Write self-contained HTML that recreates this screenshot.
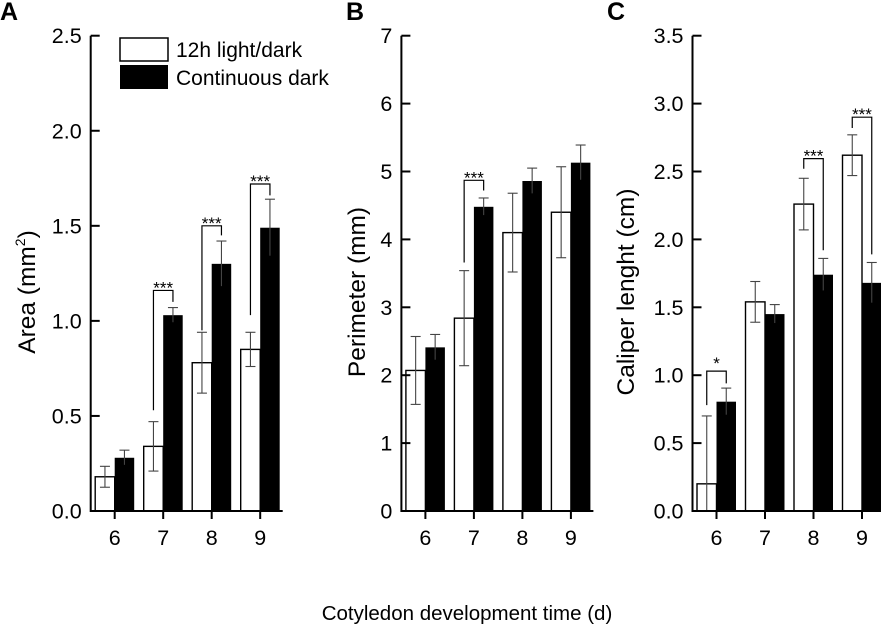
<!DOCTYPE html>
<html><head><meta charset="utf-8">
<style>
html,body{margin:0;padding:0;background:#fff;}
svg{display:block;font-family:"Liberation Sans",Arial,sans-serif;}
</style></head>
<body>
<svg id="fig" width="881" height="627" viewBox="0 0 881 627" xmlns="http://www.w3.org/2000/svg">
<text x="0" y="20" font-size="25" font-weight="bold">A</text>
<text x="346" y="20" font-size="25" font-weight="bold">B</text>
<text x="607" y="20" font-size="25" font-weight="bold">C</text>
<text x="467" y="620" font-size="20.5" text-anchor="middle">Cotyledon development time (d)</text>
<g>
<rect x="120" y="38" width="48" height="23" fill="#fff" stroke="#000" stroke-width="1.5"/>
<text x="176" y="57" font-size="21">12h light/dark</text>
<rect x="120" y="65" width="48" height="24" fill="#000"/>
<text x="176" y="85" font-size="21">Continuous dark</text>
</g>
</svg>
<script>
const days = ["6","7","8","9"];
const areaLight = [0.18, 0.34, 0.78, 0.85];
const areaLightErr = [0.055, 0.13, 0.16, 0.09];
const areaDark = [0.28, 1.03, 1.30, 1.49];
const areaDarkErr = [0.04, 0.04, 0.12, 0.15];
const areaTicks = ["0.0","0.5","1.0","1.5","2.0","2.5"];
const areaSig = [null, ["***",0.53,1.16,1.10], ["***",0.95,1.50,1.45], ["***",1.03,1.72,1.66]];

const perLight = [2.07, 2.84, 4.10, 4.40];
const perLightErr = [0.50, 0.70, 0.58, 0.67];
const perDark = [2.41, 4.48, 4.86, 5.13];
const perDarkErr = [0.19, 0.13, 0.19, 0.26];
const perTicks = ["0","1","2","3","4","5","6","7"];
const perSig = [null, ["***",3.66,4.87,4.72], null, null];

const calLight = [0.20, 1.54, 2.26, 2.62];
const calLightErr = [0.50, 0.15, 0.19, 0.15];
const calDark = [0.805, 1.45, 1.74, 1.68];
const calDarkErr = [0.10, 0.07, 0.12, 0.15];
const calTicks = ["0.0","0.5","1.0","1.5","2.0","2.5","3.0","3.5"];
const calSig = [["*",0.78,1.03,0.94], null, ["***",2.52,2.595,1.92], ["***",2.82,2.90,1.89]];

const NS = "http://www.w3.org/2000/svg";
const svg = document.getElementById("fig");
function mk(tag, attrs, parent){const e=document.createElementNS(NS,tag);for(const k in attrs)e.setAttribute(k,attrs[k]);(parent||svg).appendChild(e);return e;}

function panel(key, ax, ticks, light, lightErr, dark, darkErr, sig, title, titleX, sup){
  const y0 = 511, yTop = 35.7;
  const vmax = parseFloat(ticks[ticks.length-1]);
  const y = v => y0 - (Math.max(v,0)/vmax)*(y0-yTop);
  const x = i => ax + 24 + i*48.5;
  const bw = 19.5;
  const g = mk("g",{});
  
  
  days.forEach((d,i)=>{
    const cx = x(i);
    const wb = mk("rect",{x:cx-bw,y:y(light[i]),width:bw,height:y0-y(light[i]),fill:"#fff",stroke:"#000","stroke-width":1.4},g);
    
    
    const bb = mk("rect",{x:cx,y:y(dark[i]),width:bw,height:y0-y(dark[i]),fill:"#000"},g);
    
    
    [[cx-bw/2, light[i], lightErr[i]],[cx+bw/2, dark[i], darkErr[i]]].forEach((e,j)=>{
      const eg = mk("g",{stroke:"#444","stroke-width":1.1,fill:"none"},g);
      
      
      const hi = y(e[1]+e[2]), lo = y(e[1]-e[2]);
      mk("line",{x1:e[0],x2:e[0],y1:hi,y2:lo},eg);
      mk("line",{x1:e[0]-5,x2:e[0]+5,y1:hi,y2:hi},eg);
      if(e[1]-e[2]>0) mk("line",{x1:e[0]-5,x2:e[0]+5,y1:lo,y2:lo,stroke:j?"#000":"#444"},eg);
    });
    const s = sig[i];
    if(s){
      const sg = mk("g",{},g);
      
      
      const lx = cx-bw/2, rx = cx+bw/2;
      mk("polyline",{points:`${lx},${y(s[1])} ${lx},${y(s[2])} ${rx},${y(s[2])} ${rx},${y(s[3])}`,fill:"none",stroke:"#000","stroke-width":1.2},sg);
      const st = mk("text",{x:cx,y:y(s[2])+(s[0]==="*"?-2:3),"font-size":17,"text-anchor":"middle"},sg);
      st.textContent = s[0];
    }
  });
  const axis = mk("path",{d:`M${ax},${yTop} L${ax},${y0} L${ax+192},${y0}`,fill:"none",stroke:"#000","stroke-width":2},g);
  
  
  ticks.forEach((t,k)=>{
    const ty = y(parseFloat(t));
    mk("line",{x1:ax,x2:ax+9,y1:ty,y2:ty,stroke:"#000","stroke-width":2},g);
    const tl = mk("text",{x:ax-9,y:ty+7.5,"font-size":21.5,"text-anchor":"end"},g);
    
    
    tl.textContent = t;
  });
  days.forEach((d,i)=>{
    mk("line",{x1:x(i),x2:x(i),y1:y0,y2:y0+8,stroke:"#000","stroke-width":2},g);
    const xl = mk("text",{x:x(i),y:y0+34,"font-size":21.5,"text-anchor":"middle"},g);
    
    
    xl.textContent = d;
  });
  const tt = mk("text",{x:0,y:0,"font-size":24.5,"text-anchor":"middle",transform:`translate(${titleX},292) rotate(-90)`},g);
  
  
  tt.textContent = title;
  if(sup){
    const ts = mk("tspan",{"font-size":14,dy:-10},tt); ts.textContent = "2";
    const tc = mk("tspan",{dy:10},tt); tc.textContent = ")";
  }
}
panel("area", 90.7, areaTicks, areaLight, areaLightErr, areaDark, areaDarkErr, areaSig, "Area (mm", 35, true);
panel("perimeter", 401.4, perTicks, perLight, perLightErr, perDark, perDarkErr, perSig, "Perimeter (mm)", 365, false);
panel("caliper", 692.5, calTicks, calLight, calLightErr, calDark, calDarkErr, calSig, "Caliper lenght (cm)", 634, false);
</script>
</body></html>
